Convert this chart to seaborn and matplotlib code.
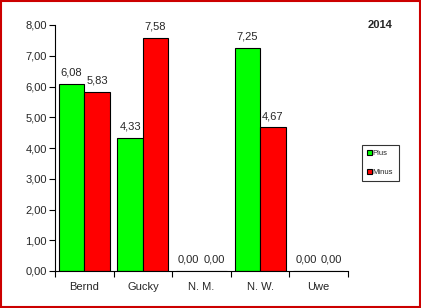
import matplotlib
matplotlib.use("Agg")
import matplotlib.pyplot as plt
import seaborn as sns
import pandas as pd
from matplotlib.patches import Rectangle

names = ["Bernd", "Gucky", "N. M.", "N. W.", "Uwe"]
plus = [6.08, 4.33, 0.00, 7.25, 0.00]
minus = [5.83, 7.58, 0.00, 4.67, 0.00]
series = ["Plus", "Minus"]
colors = ["#00FF00", "#FF0000"]
yticks = [0, 1, 2, 3, 4, 5, 6, 7, 8]
title = "2014"

df = pd.DataFrame({
    "name": names * 2,
    "value": plus + minus,
    "series": [series[0]] * len(names) + [series[1]] * len(names),
})

sns.set_style("white")
plt.rcParams["font.family"] = ["Liberation Sans", "DejaVu Sans"]

fig = plt.figure(figsize=(4.21, 3.08), dpi=100)
ax = fig.add_axes([55 / 421, 1 - 271 / 308, (348 - 55) / 421, (271 - 25) / 308])

sns.barplot(data=df, x="name", y="value", hue="series", palette=colors,
            width=0.87, edgecolor="black", linewidth=0.8, ax=ax, legend=True,
            saturation=1)

for cont in ax.containers:
    ax.bar_label(cont, labels=[f"{v:.2f}".replace(".", ",") for v in cont.datavalues],
                 padding=4.5, fontsize=8)

ax.set_ylim(0, 8)
ax.set_xlim(-0.5, len(names) - 0.5)
ax.set_yticks(yticks)
ax.set_yticklabels([f"{v:.2f}".replace(".", ",") for v in yticks], fontsize=8)
ax.set_xticks([i - 0.5 for i in range(len(names) + 1)])
ax.set_xticklabels([])
ax.set_xticks(range(len(names)), minor=True)
ax.set_xticklabels(names, minor=True, fontsize=8)
ax.tick_params(axis="x", which="major", length=4, width=0.8, direction="out", color="black", bottom=True)
ax.tick_params(axis="x", which="minor", length=0, pad=8)
ax.tick_params(axis="y", which="major", length=4, width=0.8, direction="out", color="black", left=True, pad=2)
ax.set_xlabel("")
ax.set_ylabel("")
for s in ["top", "right"]:
    ax.spines[s].set_visible(False)
for s in ["left", "bottom"]:
    ax.spines[s].set_color("black")
    ax.spines[s].set_linewidth(0.8)

leg = ax.legend(loc="center left", bbox_to_anchor=(362 / 421, 1 - 163 / 308),
                bbox_transform=fig.transFigure, fontsize=5.5, frameon=True,
                fancybox=False, edgecolor="black", handlelength=0.6, handleheight=0.6,
                handletextpad=0.1, labelspacing=1.5, borderpad=0.7, borderaxespad=0)
leg.get_frame().set_linewidth(0.8)

fig.text(380 / 421, 1 - 25 / 308, title, fontsize=8, fontweight="bold", ha="center", va="center")

fig.patches.append(Rectangle((0.003, 0.004), 0.994, 0.992, transform=fig.transFigure,
                             fill=False, edgecolor="#CC0000", linewidth=1.5))

fig.savefig("out.png", dpi=100)
